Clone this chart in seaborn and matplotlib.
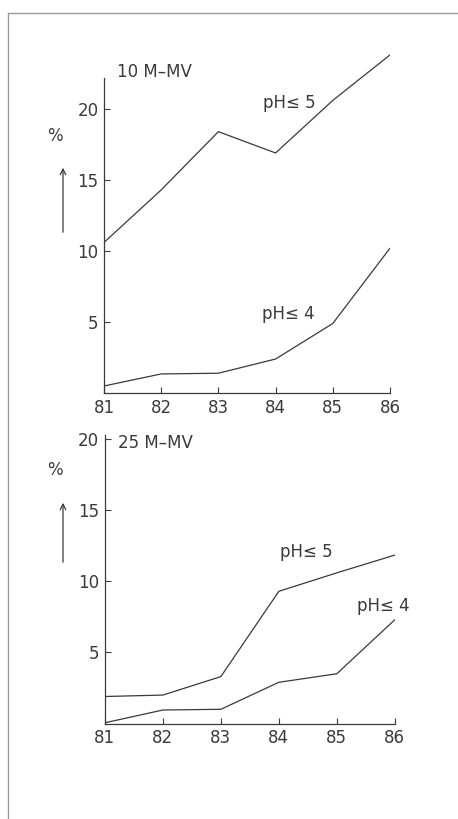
# pH share of samples, 10 M-MV and 25 M-MV, 1981-1986

import pandas as pd
import matplotlib.pyplot as plt
import seaborn as sns
from matplotlib.lines import Line2D

years = [81, 82, 83, 84, 85, 86]

# 10 M-MV panel
top_ph5 = [10.6, 14.3, 18.4, 16.9, 20.6, 23.8]
top_ph4 = [0.5, 1.35, 1.4, 2.4, 4.9, 10.2]

# 25 M-MV panel
bot_ph5 = [1.9, 2.0, 3.3, 9.3, 10.6, 11.85]
bot_ph4 = [0.05, 0.95, 1.0, 2.9, 3.5, 7.3]

ink = "#3a3a3a"

sns.set_style("ticks")
plt.rcParams["font.family"] = ["DejaVu Sans"]

fig = plt.figure(figsize=(4.58, 8.19), dpi=100)


def make_panel(rect, ph5, ph4, ymax, spine_top, title, title_y, lab5, lab4):
    ax = fig.add_axes(rect)
    df = pd.DataFrame({"year": years * 2,
                       "pct": ph5 + ph4,
                       "grp": ["pH5"] * 6 + ["pH4"] * 6})
    sns.lineplot(data=df, x="year", y="pct", units="grp", estimator=None,
                 color=ink, linewidth=0.9, ax=ax, clip_on=True)
    ax.set_xlim(81, 86)
    ax.set_ylim(0, ymax)
    ax.set_xticks(years)
    ax.set_yticks([5, 10, 15, 20])
    ax.tick_params(direction="in", length=4, width=0.8, colors=ink,
                   labelsize=12, pad=4)
    sns.despine(ax=ax)
    ax.spines["left"].set_bounds(0, spine_top)
    for s in ("left", "bottom"):
        ax.spines[s].set_color(ink)
        ax.spines[s].set_linewidth(0.9)
    ax.set_xlabel("")
    ax.set_ylabel("")
    ax.text(81.22, title_y, title, fontsize=12, color=ink, va="center")
    ax.text(lab5[0], lab5[1], "pH\u2264 5", fontsize=12, color=ink, va="center")
    ax.text(lab4[0], lab4[1], "pH\u2264 4", fontsize=12, color=ink, va="center")
    return ax


make_panel([0.227, 0.520, 0.6245, 0.4164], top_ph5, top_ph4, 24, 22.2,
           "10 M\u2013MV", 22.6, (83.78, 20.4), (83.76, 5.6))
make_panel([0.229, 0.1166, 0.633, 0.3523], bot_ph5, bot_ph4, 20.3, 20.3,
           "25 M\u2013MV", 19.75, (84.02, 12.1), (85.34, 8.3))

# "%" with an upward arrow beside each y axis
for pct_y, a0, a1 in [(136, 235, 165), (470, 565, 500)]:
    fig.text(55 / 458, 1 - pct_y / 819, "%", fontsize=12, color=ink,
             ha="center", va="center")
    fig.add_artist(plt.Annotation("", xy=(63 / 458, 1 - a1 / 819),
                                  xytext=(63 / 458, 1 - a0 / 819),
                                  xycoords="figure fraction",
                                  textcoords="figure fraction",
                                  arrowprops=dict(arrowstyle="->", color=ink,
                                                  lw=0.9)))

# page frame
fig.add_artist(Line2D([8 / 458, 8 / 458], [0, 1 - 13 / 819],
                      transform=fig.transFigure, color="#999999", lw=1))
fig.add_artist(Line2D([8 / 458, 1], [1 - 13 / 819, 1 - 13 / 819],
                      transform=fig.transFigure, color="#999999", lw=1))

fig.savefig("out.png", dpi=100)
